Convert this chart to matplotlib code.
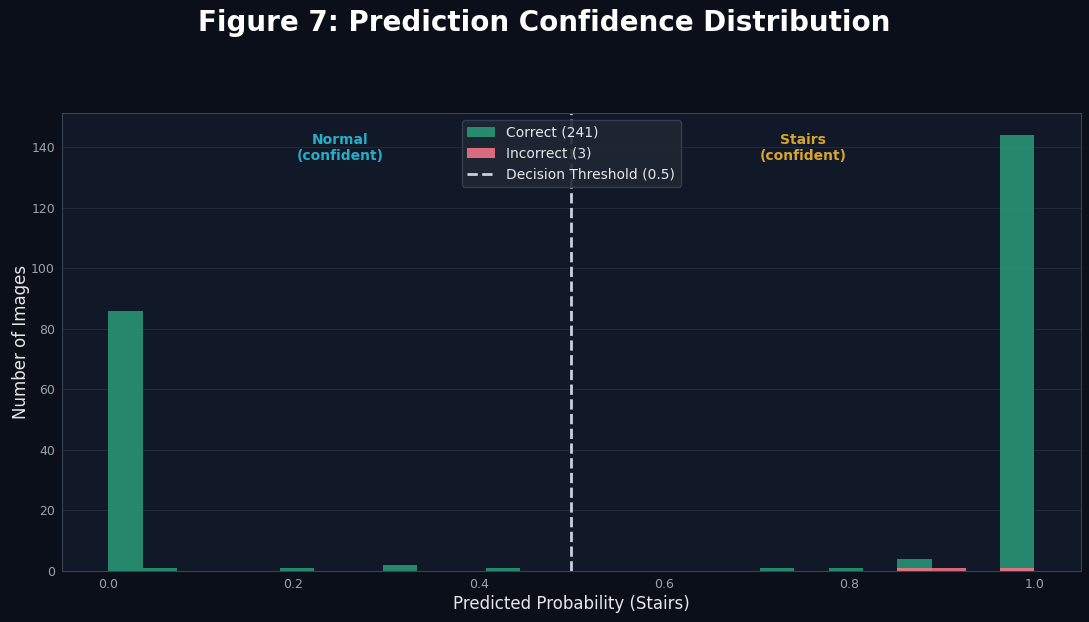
import numpy as np
import matplotlib
matplotlib.use('Agg')
import matplotlib.pyplot as plt

# histogram data (27 equal bins over [0, 1])
n_bins = 27
correct_counts = [86, 1, 0, 0, 0, 1, 0, 0, 2, 0, 0, 1, 0, 0,
                  0, 0, 0, 0, 0, 1, 0, 1, 0, 4, 0, 0, 144]
incorrect_counts = [0, 0, 0, 0, 0, 0, 0, 0, 0, 0, 0, 0, 0, 0,
                    0, 0, 0, 0, 0, 0, 0, 0, 0, 1, 1, 0, 1]
threshold = 0.5
labels = ['Correct (241)', 'Incorrect (3)', 'Decision Threshold (0.5)']

BG = '#0b0f19'
AX_BG = '#111827'
GRID = '#1f2a3a'
TXT = '#e5e7eb'
TICK = '#9ca3af'

edges = np.linspace(0, 1, n_bins + 1)

fig = plt.figure(figsize=(10.89, 6.22), dpi=100, facecolor=BG)
ax = fig.add_axes([0.0569, 0.0826, 0.9355, 0.7352])
ax.set_facecolor(AX_BG)

ax.hist(edges[:-1], bins=edges, weights=correct_counts, color='#2aa07c',
        alpha=0.82, label=labels[0])
ax.hist(edges[:-1], bins=edges, weights=incorrect_counts, color='#f07286',
        alpha=0.9, label=labels[1])
ax.axvline(threshold, color='#c8d0de', linestyle='--', linewidth=2,
           label=labels[2])

ymax = max(correct_counts)
ax.text(0.25, ymax * 0.97, 'Normal\n(confident)', ha='center', va='center',
        color='#27aec6', fontsize=10, fontweight='bold')
ax.text(0.75, ymax * 0.97, 'Stairs\n(confident)', ha='center', va='center',
        color='#d6a531', fontsize=10, fontweight='bold')

ax.set_xlabel('Predicted Probability (Stairs)', color=TXT, fontsize=12,
              labelpad=3.5)
ax.set_ylabel('Number of Images', color=TXT, fontsize=12, labelpad=1)
ax.tick_params(colors=TICK, labelsize=9, length=0, pad=5)
ax.grid(axis='y', color=GRID, linewidth=0.8)
ax.set_axisbelow(True)
for s in ax.spines.values():
    s.set_color('#3a4352')
    s.set_linewidth(0.8)

leg = ax.legend(loc='upper center', fontsize=10, facecolor='#1e2733',
                edgecolor='#374151', framealpha=0.9)
for t in leg.get_texts():
    t.set_color(TXT)

fig.suptitle('Figure 7: Prediction Confidence Distribution', color='white',
             fontsize=20, fontweight='bold', y=0.963, va='center')

fig.savefig('out.png', dpi=100, facecolor=BG)
